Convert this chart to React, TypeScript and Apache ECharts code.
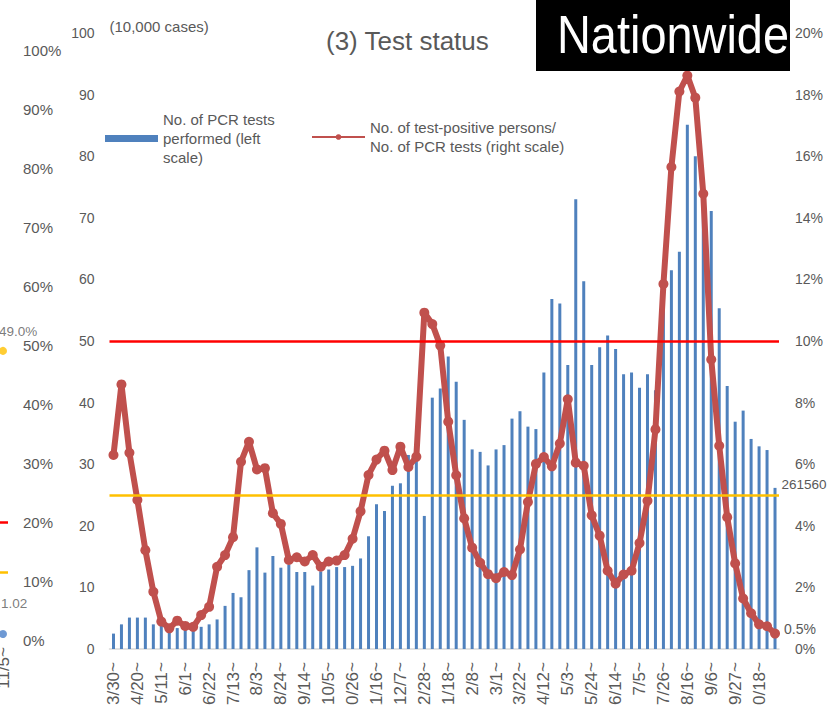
import React, { useEffect, useRef } from "react";
import * as echarts from "echarts";

// Week-start categories (weekly, 2020/3/30 to 2021/11/1)
const weekLabels = [
  "3/30~","4/6~","4/13~","4/20~","4/27~","5/4~","5/11~","5/18~","5/25~","6/1~",
  "6/8~","6/15~","6/22~","6/29~","7/6~","7/13~","7/20~","7/27~","8/3~","8/10~",
  "8/17~","8/24~","8/31~","9/7~","9/14~","9/21~","9/28~","10/5~","10/12~","10/19~",
  "10/26~","11/2~","11/9~","11/16~","11/23~","11/30~","12/7~","12/14~","12/21~","12/28~",
  "1/4~","1/11~","1/18~","1/25~","2/1~","2/8~","2/15~","2/22~","3/1~","3/8~",
  "3/15~","3/22~","3/29~","4/5~","4/12~","4/19~","4/26~","5/3~","5/10~","5/17~",
  "5/24~","5/31~","6/7~","6/14~","6/21~","6/28~","7/5~","7/12~","7/19~","7/26~",
  "8/2~","8/9~","8/16~","8/23~","8/30~","9/6~","9/13~","9/20~","9/27~","10/4~",
  "10/11~","10/18~","10/25~","11/1~",
];

// No. of PCR tests performed (10,000 cases, left scale)
const pcrTests = [
  2.5, 4.0, 5.1, 5.1, 5.1, 4.0, 3.8, 3.4, 3.4, 3.5,
  3.6, 3.6, 4.0, 4.8, 7.0, 9.1, 8.4, 12.8, 16.5, 12.4,
  15.1, 13.2, 13.7, 12.5, 12.5, 10.3, 12.6, 12.9, 13.3, 13.3,
  13.5, 14.7, 18.3, 23.5, 22.4, 26.5, 26.9, 31.5, 32.0, 21.6,
  40.8, 42.3, 47.5, 43.4, 37.2, 32.4, 32.0, 29.8, 32.4, 33.1,
  37.4, 38.6, 36.1, 35.7, 44.9, 56.8, 56.1, 46.1, 73.0, 59.7,
  46.1, 49.0, 50.9, 48.7, 44.6, 44.9, 42.4, 44.6, 42.0, 58.0,
  61.5, 64.5, 85.1, 80.0, 75.0, 71.1, 55.3, 42.7, 36.9, 38.7,
  34.1, 32.9, 32.3, 26.156,
];

// Test-positive persons / PCR tests (%, right scale)
const positiveRate = [
  6.30, 8.59, 6.37, 4.84, 3.21, 1.86, 0.89, 0.67, 0.92, 0.75,
  0.72, 1.10, 1.37, 2.67, 3.05, 3.63, 6.08, 6.73, 5.83, 5.87,
  4.41, 4.06, 2.89, 2.98, 2.84, 3.05, 2.67, 2.84, 2.87, 3.05,
  3.58, 4.47, 5.65, 6.15, 6.44, 5.81, 6.57, 5.91, 6.24, 10.92,
  10.55, 9.85, 7.38, 5.64, 4.24, 3.29, 2.80, 2.43, 2.30, 2.50,
  2.40, 3.23, 4.77, 6.01, 6.23, 5.93, 6.67, 8.11, 6.05, 5.95,
  4.34, 3.68, 2.54, 2.12, 2.42, 2.54, 3.44, 4.81, 7.13, 11.85,
  15.65, 18.10, 18.62, 17.90, 14.78, 9.40, 6.60, 4.28, 2.78, 1.64,
  1.16, 0.80, 0.74, 0.5,
];

// Reference levels of the positivity rate (%): stage IV, stage III
const rateLimits = [10, 5];

// Fragment of the neighbouring panel at the left edge
const prevCategories = ["11/5~"];
const prevRate = [49.0];
const prevValue = [1.02];
const prevLimits = [20, 11.5];

const PCR_NAME = "No. of PCR tests performed (left scale)";
const RATE_NAME = "No. of test-positive persons/ No. of PCR tests (right scale)";

export default function App() {
  const ref = useRef<HTMLDivElement>(null);

  useEffect(() => {
    if (!ref.current) return;
    const chart = echarts.init(ref.current, null, { renderer: "svg" });
    const gray = "#595959";
    const font = "'Liberation Sans', Arial, sans-serif";
    const limitColors = ["#ff0000", "#ffc000"];
    const lastBar = pcrTests.length - 1;
    const lastRate = positiveRate.length - 1;

    chart.setOption({
      animation: false,
      textStyle: { fontFamily: font },
      title: {
        text: "(3) Test status",
        left: 326,
        top: 28,
        padding: 0,
        textStyle: { fontSize: 26, fontWeight: "normal", color: gray, fontFamily: font },
      },
      legend: [
        {
          data: [{ name: PCR_NAME, icon: "rect" }],
          left: 105,
          top: 110,
          padding: 0,
          itemWidth: 53,
          itemHeight: 7,
          formatter: () => "No. of PCR tests\nperformed (left\nscale)",
          textStyle: { fontSize: 15, lineHeight: 19, color: gray, fontFamily: font },
        },
        {
          data: [RATE_NAME],
          left: 311,
          top: 118,
          padding: 0,
          itemWidth: 53,
          itemHeight: 7,
          lineStyle: { width: 2 },
          formatter: () => "No. of test-positive persons/\nNo. of PCR tests (right scale)",
          textStyle: { fontSize: 15, lineHeight: 19, color: gray, fontFamily: font },
        },
      ],
      grid: [
        { left: 109.5, right: 54, top: 33, bottom: 56, outerBoundsMode: "none" },
        { left: -2, width: 10, top: 50, bottom: 65, outerBoundsMode: "none" },
      ],
      xAxis: [
        {
          type: "category",
          gridIndex: 0,
          data: weekLabels,
          axisTick: { show: false },
          axisLine: { lineStyle: { color: "#d9d9d9", width: 1.5 } },
          axisLabel: { interval: 2, rotate: 90, margin: 13, fontSize: 17, color: gray, fontFamily: font },
        },
        {
          type: "category",
          gridIndex: 1,
          data: prevCategories,
          axisTick: { show: false },
          axisLine: { show: false },
          axisLabel: { interval: 0, rotate: 90, margin: 7, fontSize: 17, color: gray, fontFamily: font },
        },
      ],
      yAxis: [
        {
          type: "value",
          gridIndex: 0,
          min: 0,
          max: 100,
          interval: 10,
          name: "(10,000 cases)",
          nameLocation: "end",
          nameGap: 7,
          nameTextStyle: { align: "left", verticalAlign: "middle", fontSize: 15, color: gray, fontFamily: font },
          axisLine: { show: false },
          axisTick: { show: false },
          splitLine: { show: false },
          axisLabel: { margin: 15, fontSize: 14, color: gray, fontFamily: font },
        },
        {
          type: "value",
          gridIndex: 0,
          position: "right",
          min: 0,
          max: 20,
          interval: 2,
          axisLine: { show: false },
          axisTick: { show: false },
          splitLine: { show: false },
          axisLabel: { formatter: "{value}%", margin: 16, fontSize: 14, color: gray, fontFamily: font },
        },
        {
          type: "value",
          gridIndex: 1,
          position: "right",
          min: 0,
          max: 100,
          interval: 10,
          axisLine: { show: false },
          axisTick: { show: false },
          splitLine: { show: false },
          axisLabel: { formatter: "{value}%", margin: 15, fontSize: 15, color: gray, fontFamily: font },
        },
      ],
      series: [
        {
          name: PCR_NAME,
          type: "bar",
          xAxisIndex: 0,
          yAxisIndex: 0,
          barWidth: 3,
          itemStyle: { color: "#4f81bd" },
          data: pcrTests.map((v, i) =>
            i === lastBar
              ? {
                  value: v,
                  label: {
                    show: true,
                    position: [8, -10],
                    formatter: (p: any) => String(Math.round(p.value * 10000)),
                    fontSize: 13.5,
                    color: gray,
                    fontFamily: font,
                  },
                }
              : v
          ),
        },
        {
          name: "limits",
          type: "line",
          xAxisIndex: 0,
          yAxisIndex: 1,
          data: [],
          markLine: {
            silent: true,
            symbol: "none",
            label: { show: false },
            lineStyle: { type: "solid", width: 2.5 },
            data: rateLimits.map((v, i) => ({ yAxis: v, lineStyle: { color: limitColors[i], type: "solid", width: 2.5 } })),
          },
        },
        {
          name: RATE_NAME,
          type: "line",
          xAxisIndex: 0,
          yAxisIndex: 1,
          z: 4,
          symbol: "circle",
          symbolSize: 10,
          showSymbol: true,
          showAllSymbol: true,
          lineStyle: { color: "#c0504d", width: 6 },
          itemStyle: { color: "#c0504d" },
          data: positiveRate.map((v, i) =>
            i === lastRate
              ? {
                  value: v,
                  label: {
                    show: true,
                    position: "right",
                    distance: 4,
                    offset: [0, -5],
                    formatter: "{c}%",
                    fontSize: 14,
                    color: gray,
                    fontFamily: font,
                  },
                }
              : v
          ),
        },
        {
          name: "prevRate",
          type: "scatter",
          xAxisIndex: 1,
          yAxisIndex: 2,
          symbolSize: 8,
          itemStyle: { color: "#ffc000" },
          label: {
            show: true,
            position: [0, -22],
            formatter: (p: any) => p.value.toFixed(1) + "%",
            fontSize: 13.5,
            color: gray,
            fontFamily: font,
          },
          data: prevRate,
        },
        {
          name: "prevValue",
          type: "scatter",
          xAxisIndex: 1,
          yAxisIndex: 2,
          symbolSize: 8,
          itemStyle: { color: "#4a7fc9" },
          label: {
            show: true,
            position: [2, -33],
            formatter: (p: any) => p.value.toFixed(2),
            fontSize: 13.5,
            color: gray,
            fontFamily: font,
          },
          data: prevValue,
        },
        {
          name: "prevLimits",
          type: "line",
          xAxisIndex: 1,
          yAxisIndex: 2,
          data: [],
          markLine: {
            silent: true,
            symbol: "none",
            label: { show: false },
            data: prevLimits.map((v, i) => ({ yAxis: v, lineStyle: { color: limitColors[i], type: "solid", width: 2.5 } })),
          },
        },
      ],
      graphic: [
        {
          type: "rect",
          z: 100,
          shape: { x: 536, y: 0, width: 254, height: 71 },
          style: { fill: "#000000" },
        },
        {
          type: "text",
          z: 101,
          x: 557,
          y: 35,
          scaleX: 0.885,
          style: {
            x: 0,
            y: 0,
            text: "Nationwide",
            fill: "#ffffff",
            fontSize: 53,
            fontFamily: font,
            verticalAlign: "middle",
            align: "left",
          },
        },
      ],
    });

    return () => chart.dispose();
  }, []);

  return (
    <div
      ref={ref}
      style={{ position: "fixed", left: 0, top: 0, width: 833, height: 705, overflow: "hidden", background: "#ffffff" }}
    />
  );
}
